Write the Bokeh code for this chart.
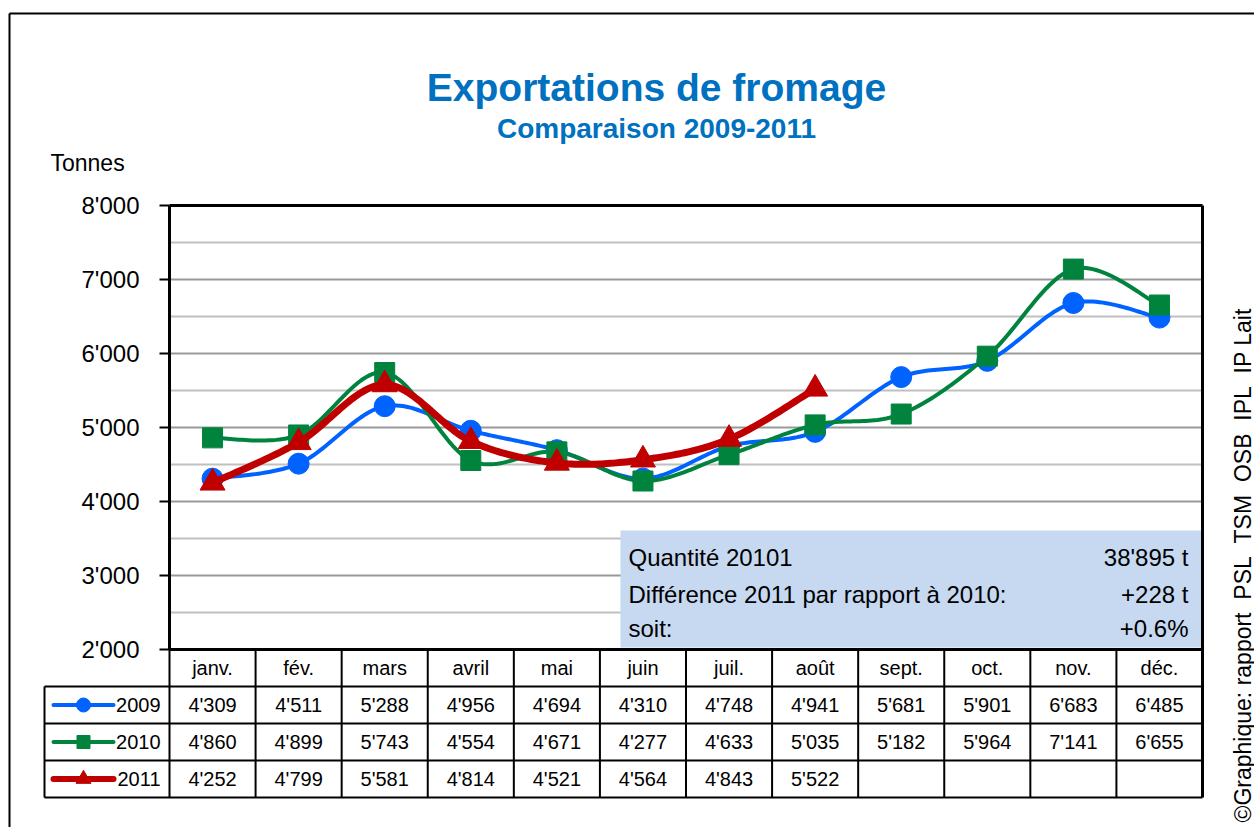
import numpy as np
from bokeh.plotting import figure
from bokeh.models import LinearAxis, FixedTicker, Range1d
from bokeh.core.properties import value
from bokeh.embed import file_html
from bokeh.resources import INLINE

# ---------------- data ----------------
months = ["janv.", "fév.", "mars", "avril", "mai", "juin", "juil.", "août",
          "sept.", "oct.", "nov.", "déc."]
years = ["2009", "2010", "2011"]
v2009 = [4309, 4511, 5288, 4956, 4694, 4310, 4748, 4941, 5681, 5901, 6683, 6485]
v2010 = [4860, 4899, 5743, 4554, 4671, 4277, 4633, 5035, 5182, 5964, 7141, 6655]
v2011 = [4252, 4799, 5581, 4814, 4521, 4564, 4843, 5522]
y_ticks = [2000, 3000, 4000, 5000, 6000, 7000, 8000]
y_tick_labels = ["2'000", "3'000", "4'000", "5'000", "6'000", "7'000", "8'000"]
minor_levels = [2500, 3500, 4500, 5500, 6500, 7500]
title_text = "Exportations de fromage"
subtitle_text = "Comparaison 2009-2011"
y_title = "Tonnes"
info_labels = ["Quantité 20101", "Différence 2011 par rapport à 2010:", "soit:"]
info_values = ["38'895 t", "+228 t", "+0.6%"]
credit = "©Graphique: rapport_PSL_TSM_OSB_IPL_IP Lait"

# ---------------- layout (page pixels) ----------------
W, H = 1254, 827
OFF = 0
PX0, PX12 = 169, 1202
COLW = (PX12 - PX0) / 12.0
PY2000, PY8000 = 649, 205
PXT = (PY2000 - PY8000) / 6000.0


def X(px):
    return (px - PX0) / COLW


def Y(py):
    return 2000 + (PY2000 - py) / PXT


FONT = value("Liberation Sans")
BLUE, GREEN, RED = "#0062FF", "#00843D", "#C00000"

p = figure(width=W, height=H, output_backend="svg", toolbar_location=None,
           x_range=Range1d(X(OFF), X(OFF + W)), y_range=Range1d(Y(OFF + H), Y(OFF)),
           x_axis_location=None, y_axis_location=None, min_border=0,
           outline_line_color=None, background_fill_color="white",
           border_fill_color="white", title=None)
p.grid.visible = False

# outer border
p.segment(x0=[X(9), X(9)], y0=[Y(13), Y(13)], x1=[X(9), X(1260)], y1=[Y(830), Y(13)],
          line_color="black", line_width=2)

# gridlines
p.segment(x0=0, y0=minor_levels, x1=12, y1=minor_levels, line_color="#C0C0C0", line_width=2)
major_grid = y_ticks[1:-1]
p.segment(x0=0, y0=major_grid, x1=12, y1=major_grid, line_color="#999999", line_width=2)

# info box
p.quad(left=X(620), right=X(1201), bottom=Y(647), top=Y(530),
       fill_color="#C6D9F1", line_color=None)
row_py = [557, 594, 628]
p.text(x=X(628), y=[Y(r) for r in row_py], text=info_labels, text_font=FONT,
       text_font_size=value("24px"), text_baseline="middle", text_align="left",
       text_color="black")
p.text(x=X(1188), y=[Y(r) for r in row_py], text=info_values, text_font=FONT,
       text_font_size=value("24px"), text_baseline="middle", text_align="right",
       text_color="black")


def smooth(vals, samples=30):
    yv = np.asarray(vals, float)
    xv = np.arange(len(yv)) + 0.5
    px = np.concatenate([[xv[0]], xv, [xv[-1]]])
    py = np.concatenate([[yv[0]], yv, [yv[-1]]])
    t = np.linspace(0, 1, samples)[1:]
    ox, oy = [xv[0]], [yv[0]]
    for i in range(len(yv) - 1):
        p0 = np.array([px[i], py[i]])
        p1 = np.array([px[i + 1], py[i + 1]])
        p2 = np.array([px[i + 2], py[i + 2]])
        p3 = np.array([px[i + 3], py[i + 3]])
        c1 = p1 + (p2 - p0) / 6.0
        c2 = p2 - (p3 - p1) / 6.0
        a = (1 - t) ** 3
        b = 3 * (1 - t) ** 2 * t
        c = 3 * (1 - t) * t ** 2
        d = t ** 3
        ox.extend(a * p1[0] + b * c1[0] + c * c2[0] + d * p2[0])
        oy.extend(a * p1[1] + b * c1[1] + c * c2[1] + d * p2[1])
    return ox, oy


series = [
    (v2009, BLUE, 4, "circle", 21),
    (v2010, GREEN, 4, "square", 20),
    (v2011, RED, 7, "triangle", 25),
]
for vals, col, lw, mk, sz in series:
    sx, sy = smooth(vals)
    p.line(sx, sy, line_color=col, line_width=lw, line_join="round", line_cap="round")
    xs = [i + 0.5 for i in range(len(vals))]
    p.scatter(xs, vals, marker=mk, size=sz, fill_color=col, line_color=col)

# plot area borders
p.segment(x0=[0, 0], y0=[8000, 2000], x1=[12, 12], y1=[8000, 2000],
          line_color="black", line_width=3)
p.segment(x0=[12], y0=[Y(797)], x1=[12], y1=[8000], line_color="black", line_width=3)

# y axis
ax = LinearAxis(fixed_location=0, bounds=(2000, 8000), ticker=FixedTicker(ticks=y_ticks),
                major_label_overrides={t: l for t, l in zip(y_ticks, y_tick_labels)},
                axis_line_width=3, axis_line_color="black",
                major_tick_out=10, major_tick_in=0, major_tick_line_width=2,
                minor_tick_out=0, minor_tick_in=0,
                major_label_text_font="Liberation Sans",
                major_label_text_font_size="24px", major_label_standoff=20,
                major_label_text_color="black")
p.add_layout(ax, "left")

# data table
row_edges = [649, 686, 723, 760, 797]
ry = [Y(r) for r in row_edges]
LEG_L = X(44)
p.segment(x0=LEG_L, y0=ry[1:], x1=12, y1=ry[1:], line_color="black", line_width=2)
p.segment(x0=list(range(0, 12)), y0=ry[0], x1=list(range(0, 12)), y1=ry[-1],
          line_color="black", line_width=2)
p.segment(x0=[LEG_L], y0=ry[1], x1=[LEG_L], y1=ry[-1], line_color="black", line_width=2)

row_c = [(ry[i] + ry[i + 1]) / 2 for i in range(4)]
p.text(x=[i + 0.5 for i in range(12)], y=row_c[0], text=months, text_font=FONT,
       text_font_size=value("20px"), text_align="center", text_baseline="middle",
       text_color="black")
for k, vals in enumerate([v2009, v2010, v2011]):
    labels = [f"{v:,}".replace(",", "'") for v in vals]
    p.text(x=[i + 0.5 for i in range(len(vals))], y=row_c[k + 1], text=labels,
           text_font=FONT, text_font_size=value("20px"), text_align="center",
           text_baseline="middle", text_color="black")

# legend keys
leg_series = [(BLUE, 4, "circle", 14), (GREEN, 4, "square", 13), (RED, 6, "triangle", 15)]
for k, (col, lw, mk, sz) in enumerate(leg_series):
    yc = row_c[k + 1]
    p.line([X(53), X(113)], [yc, yc], line_color=col, line_width=lw, line_cap="round")
    p.scatter([X(83)], [yc], marker=mk, size=sz, fill_color=col, line_color=col)
p.text(x=X(160), y=row_c[1:], text=years, text_font=FONT, text_font_size=value("20px"),
       text_align="right", text_baseline="middle", text_color="black")

# titles
p.text(x=[X(656)], y=[Y(87)], text=[title_text], text_font=FONT,
       text_font_size=value("39px"), text_font_style="bold", text_color="#0070C0",
       text_align="center", text_baseline="alphabetic")
p.text(x=[X(656)], y=[Y(128)], text=[subtitle_text], text_font=FONT,
       text_font_size=value("28px"), text_font_style="bold", text_color="#0070C0",
       text_align="center", text_baseline="alphabetic")
p.text(x=[X(50)], y=[Y(162)], text=[y_title], text_font=FONT,
       text_font_size=value("23px"), text_color="black", text_align="left",
       text_baseline="alphabetic")

# credit (rotated)
p.text(x=[X(1242)], y=[Y(822)], text=[credit], angle=np.pi / 2, text_font=FONT,
       text_font_size=value("23px"), text_color="black", text_align="left",
       text_baseline="alphabetic")

open("out.html", "w").write(file_html(p, INLINE))
